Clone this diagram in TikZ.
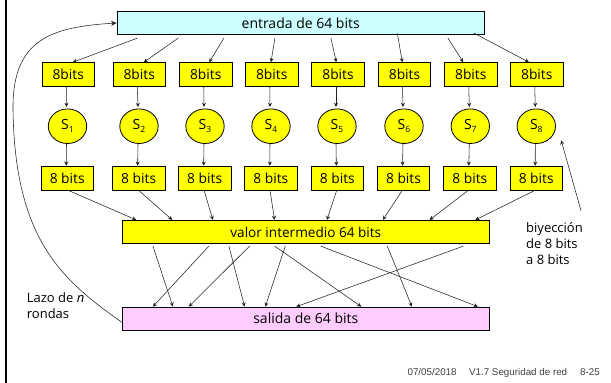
\documentclass[tikz,border=0pt]{standalone}
\usepackage{fontspec}
\setmainfont{Open Sans}
\newfontfamily\footfont{Liberation Sans}
\usetikzlibrary{arrows.meta,calc,shapes.geometric}
\definecolor{linea}{HTML}{222222}
\definecolor{cian}{HTML}{CCFFFF}
\definecolor{amarillo}{HTML}{FFFF00}
\definecolor{rosa}{HTML}{FFCCFF}
\newcommand{\Ssub}[1]{\fontsize{14}{14}\selectfont S\raisebox{-3pt}{\fontsize{8.5}{8.5}\selectfont #1}}
\tikzset{
  box/.style={draw=black,line width=0.8pt,inner sep=0pt,minimum height=23.3pt,font=\fontsize{13.8}{15}\selectfont},
  small/.style={box,fill=amarillo,minimum width=52.6pt},
  wide/.style={box,minimum width=367pt},
  sbox/.style={ellipse,draw=black,line width=0.8pt,fill=amarillo,inner sep=0pt,minimum width=38.4pt,minimum height=34.6pt},
  arr/.style={draw=linea,line width=0.55pt,-{Stealth[length=4.2pt,width=4pt]}},
  lab/.style={inner sep=0pt,align=left,font=\fontsize{13}{16.2}\selectfont}
}
\begin{document}
\begin{tikzpicture}[x=1pt,y=-1pt]
\useasboundingbox (0,0) rectangle (611,383);
\fill[black] (5,0) rectangle (7.4,383);
% top and main boxes
\node[wide,fill=cian,minimum width=367.4pt,font=\fontsize{14}{15}\selectfont] (e) at (300.7,23) {entrada de 64 bits};
\node[wide,fill=amarillo,font=\fontsize{13.6}{15}\selectfont] (v) at (305.8,232) {valor intermedio 64 bits};
\node[wide,fill=rosa,font=\fontsize{14}{15}\selectfont] (o) at (305.8,318.7) {salida de 64 bits};
% input byte boxes
\node[small] (b1) at (68.25,74.3) {8bits};
\node[small] (b2) at (139.25,74.3) {8bits};
\node[small] (b3) at (205.75,74.3) {8bits};
\node[small] (b4) at (271.75,74.3) {8bits};
\node[small] (b5) at (338,74.3) {8bits};
\node[small] (b6) at (404.5,74.3) {8bits};
\node[small] (b7) at (470.75,74.3) {8bits};
\node[small] (b8) at (536.75,74.3) {8bits};
% S boxes
\node[sbox] (s1) at (67.5,126.2) {\Ssub{1}};
\node[sbox] (s2) at (139,126.2) {\Ssub{2}};
\node[sbox] (s3) at (205,126.2) {\Ssub{3}};
\node[sbox] (s4) at (271,126.2) {\Ssub{4}};
\node[sbox] (s5) at (337,126.2) {\Ssub{5}};
\node[sbox] (s6) at (404,126.2) {\Ssub{6}};
\node[sbox] (s7) at (470.3,126.2) {\Ssub{7}};
\node[sbox] (s8) at (536.3,126.2) {\Ssub{8}};
% output byte boxes
\node[small] (c1) at (67.2,178.3) {8 bits};
\node[small] (c2) at (138.65,178.3) {8 bits};
\node[small] (c3) at (204.65,178.3) {8 bits};
\node[small] (c4) at (270.8,178.3) {8 bits};
\node[small] (c5) at (337.35,178.3) {8 bits};
\node[small] (c6) at (403.5,178.3) {8 bits};
\node[small] (c7) at (469.8,178.3) {8 bits};
\node[small] (c8) at (536.2,178.3) {8 bits};
% entrada -> 8bits
\foreach \i/\sx/\sy/\ex in {1/21/3/4.5,2/61.7/3/4.5,3/107.3/3/3.5,4/158.3/3/-0.75,5/214.3/3/-1.7,6/280.7/-2/-2.2,7/331.3/3/-7.5,8/357.3/-2/-7.75}
  \draw[arr] ($(e.south west)+(\sx,\sy)$) -- ($(b\i.north)+(\ex,0)$);
% vertical arrows
\foreach \i in {1,...,8}{
  \draw[arr] ($(b\i.south)+(-2,0)$) -- ($(s\i.north)+(-1,-1.5)$);
  \draw[arr] ($(s\i.south)+(-1,0)$) -- ($(c\i.north)+(-1,-0.5)$);
}
% 8 bits -> valor
\foreach \i/\sx/\ex in {1/1/14.4,2/0/50.4,3/-0.6/91,4/-0.8/152.7,5/-0.6/205,6/-1.2/261,7/-1.5/307.7,8/-1.2/353.4}
  \draw[arr] ($(c\i.south)+(\sx,0)$) -- ($(v.north west)+(\ex,0)$);
% valor -> salida
\foreach \sx/\ex in {31/51,87/31,107/122.7,127.7/67,163.4/143.4,152.7/239.4,198.7/356,265.4/290,341.7/174.4}
  \draw[arr] ($(v.south west)+(\sx,2)$) -- ($(o.north west)+(\ex,0)$);
% loop
\coordinate (lz) at (13,110);
\draw[draw=linea,line width=0.55pt,-{Stealth[length=5.5pt,width=5pt]}] ($(o.west)+(0,3.6)$) .. controls (62,280) and (15,240) .. (lz) .. controls (12,40) and (50,27) .. (e.west);
% biyeccion
\node[lab,anchor=north west] (t1) at (526,222) {biyección\\de 8 bits\\a 8 bits};
\coordinate (bf) at (581,210.7);
\draw[arr] (bf) -- ($(s8.south east)+(11,1.6)$);
\node[lab,anchor=north west] (t2) at (26.7,292.5) {Lazo de \textit{n}\\rondas};
\node[anchor=east,inner sep=0pt,text=black!75,font=\footfont\fontsize{9.8}{12}\selectfont] (f) at (600,372.5) {07/05/2018\hspace{12.5pt}V1.7 Seguridad de red\hspace{13pt}8-25};
\end{tikzpicture}
\end{document}
